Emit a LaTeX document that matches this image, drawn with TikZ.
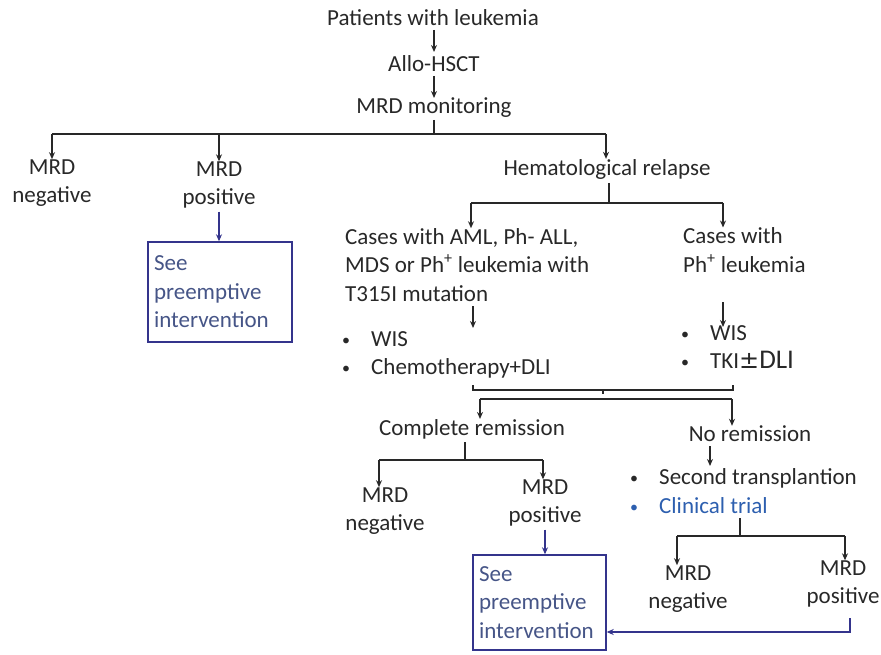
\documentclass[tikz,border=0pt]{standalone}
\usepackage{fontspec}
\setmainfont{Carlito}
\newfontfamily\symfont{DejaVu Sans}
\usetikzlibrary{arrows.meta}
\definecolor{boxblue}{RGB}{52,52,140}
\definecolor{seetext}{RGB}{70,85,135}
\definecolor{trialblue}{RGB}{45,95,175}
\definecolor{ink}{RGB}{40,40,40}
\newcommand{\bitem}{\makebox[29pt][l]{\raisebox{1pt}{\fontsize{16}{16}\selectfont\textbullet}}}
\tikzset{
  lbl/.style={font=\fontsize{23}{28.5}\selectfont, inner sep=0pt, align=center, text=ink},
  lst/.style={lbl, anchor=west, align=left},
  arr/.style={-{Stealth[length=7pt,width=6pt]}, line width=1.4pt, draw=ink},
  ln/.style={line width=1.4pt, draw=ink},
  barr/.style={arr, draw=boxblue},
  seebox/.style={draw=boxblue, line width=1.4pt, font=\fontsize{23}{28.5}\selectfont,
    text=seetext, align=left, inner xsep=6pt, inner ysep=0pt}
}
\begin{document}
\begin{tikzpicture}[x=1pt,y=-1pt]
\useasboundingbox (0,0) rectangle (881,655);
% nodes
\node[lbl] (pat) at (433,18) {Patients with leukemia};
\node[lbl] (allo) at (434,64) {Allo-HSCT};
\node[lbl] (mon) at (434,108) {MRD monitoring};
\node[lbl] (neg1) at (52,183) {MRD\\negative};
\node[lbl] (pos1) at (219,185) {MRD\\positive};
\node[seebox, minimum height=100pt, text width=132pt] (see1) at (220,292) {See\\preemptive\\intervention};
\node[lbl] (hem) at (607,169) {Hematological relapse};
\node[lst] (casea) at (345,265) {Cases with AML, Ph- ALL,\\MDS or Ph\textsuperscript{+} leukemia with\\T315I mutation};
\node[lst] (caseb) at (683,250) {Cases with\\Ph\textsuperscript{+} leukemia};
\node[lst] (treata) at (342,355) {\bitem WIS\\\bitem Chemotherapy+DLI};
\node[lst] (treatb) at (681,347) {\bitem WIS\\\bitem TKI{\symfont\fontsize{24}{28.5}\selectfont ±}{\fontsize{27}{28.5}\selectfont DLI}};
\node[lbl] (cr) at (472,429) {Complete remission};
\node[lbl] (nr) at (750,434) {No remission};
\node[lbl] (neg2) at (385,511) {MRD\\negative};
\node[lbl] (pos2) at (545,503) {MRD\\positive};
\node[seebox, minimum height=95pt, text width=121pt] (see2) at (539.5,602.5) {See\\preemptive\\intervention};
\node[lst] (nrt) at (630,491) {\bitem Second transplantion\\\textcolor{trialblue}{\bitem Clinical trial}};
\node[lbl] (neg3) at (688,589) {MRD\\negative};
\node[lbl] (pos3) at (843,584) {MRD\\positive};
% junction coordinates
\coordinate (a1) at (434,30);  \coordinate (a2) at (434,52);
\coordinate (a3) at (434,76);  \coordinate (a4) at (434,98);
\coordinate (m0) at (434,120); \coordinate (m1) at (434,134);
\coordinate (mL) at (52,134);  \coordinate (mM) at (219,134); \coordinate (mR) at (606,134);
\coordinate (h0) at (609,183); \coordinate (h1) at (609,203);
\coordinate (hL) at (471,203); \coordinate (hR) at (723,203);
\coordinate (ca0) at (473,306); \coordinate (ca1) at (473,328);
\coordinate (cb0) at (723,302); \coordinate (cb1) at (723,327);
\coordinate (bL) at (473,390); \coordinate (bR) at (733,390); \coordinate (bM) at (603,390);
\coordinate (sL) at (480,399); \coordinate (sR) at (732,399);
\coordinate (c0) at (465,442); \coordinate (c1) at (465,460);
\coordinate (cL) at (379,460); \coordinate (cR) at (543,460);
\coordinate (n0) at (710,446); \coordinate (n1) at (710,466);
\coordinate (t0) at (740,518); \coordinate (t1) at (740,536);
\coordinate (tL) at (677,536); \coordinate (tR) at (845,536);
\coordinate (p0) at (850,618); \coordinate (p1) at (850,632);
% connectors
\draw[arr] (a1) -- (a2);
\draw[arr] (a3) -- (a4);
\draw[ln] (m0) -- (m1);
\draw[ln] (mL) -- (mR);
\draw[arr] (mL) -- (mL |- neg1.north);
\draw[arr] (mM) -- (mM |- pos1.north);
\draw[arr] (mR) -- (mR |- hem.north);
\draw[barr] ([yshift=-3pt]pos1.south) -- (pos1.south |- see1.north);
\draw[ln] (h0) -- (h1);
\draw[ln] (hL) -- (hR);
\draw[arr] (hL) -- (hL |- casea.north);
\draw[arr] (hR) -- (hR |- caseb.north);
\draw[arr] (ca0) -- (ca1);
\draw[arr] (cb0) -- (cb1);
\draw[line width=1.1pt, draw=ink] ([yshift=5pt]bL) -- (bL) -- (bR) -- ([yshift=5pt]bR);
\draw[line width=1.1pt, draw=ink] (bM) -- ++(0,4);
\draw[ln] (sL) -- (sR);
\draw[arr] (sL) -- (sL |- cr.north);
\draw[arr] (sR) -- (sR |- nr.north);
\draw[ln] (c0) -- (c1);
\draw[ln] (cL) -- (cR);
\draw[arr] (cL) -- (cL |- neg2.north);
\draw[arr] (cR) -- (cR |- pos2.north);
\draw[barr] ([yshift=-3pt]pos2.south) -- (pos2.south |- see2.north);
\draw[arr] (n0) -- (n1);
\draw[ln] (t0) -- (t1);
\draw[ln] (tL) -- (tR);
\draw[arr] (tL) -- (tL |- neg3.north);
\draw[arr] (tR) -- (tR |- pos3.north);
\draw[barr] (p0) -- (p1) -- (see2.east |- p1);
\end{tikzpicture}
\end{document}
